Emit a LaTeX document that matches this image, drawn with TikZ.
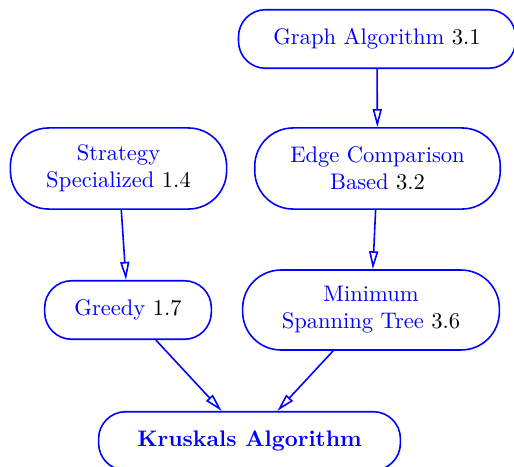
\documentclass[tikz,border=0pt]{standalone}
\usepackage{tikz}
\usetikzlibrary{positioning, arrows.meta}
\tikzset {
    ->,
    >={Triangle[open, length=8pt, width=4pt]},
    topic/.style={draw=blue, text=blue, line width=0.7pt, align=center,
                  inner sep=0pt, rounded corners=#1},
    topic/.default=12pt
}
\newcommand{\ver}[1]{\textcolor{black}{#1}}

\begin{document}
\begin{tikzpicture}[x=0.444pt, y=-0.444pt]
                        \useasboundingbox (0,0) rectangle (514,466);

                        \node[topic, minimum width=123pt, minimum height=26pt] (ga) at (377,39) {Graph Algorithm \ver{3.1}};
                        \node[topic=17pt, minimum width=96pt, minimum height=36pt] (ss) at (118.5,168.5) {Strategy\\Specialized \ver{1.4}};
                        \node[topic=17pt, minimum width=109pt, minimum height=36pt] (ecb) at (377.5,168.5) {Edge Comparison\\Based \ver{3.2}};
                        \node[topic, minimum width=74pt, minimum height=26pt] (gr) at (128,310) {Greedy \ver{1.7}};
                        \node[topic=17pt, minimum width=114pt, minimum height=35.5pt] (mst) at (371,310) {Minimum\\Spanning Tree \ver{3.6}};
                        \node[topic, minimum width=134pt, minimum height=26pt] (kr) at (249.5,441) {\textbf{Kruskals Algorithm}};

                        \draw[blue, line width=0.7pt]
                        (ga) edge (ecb)
                        (ss) edge (gr)
                        (ecb) edge (mst)
                        (gr) edge (kr)
                        (mst) edge (kr);

                    \end{tikzpicture}
\end{document}
